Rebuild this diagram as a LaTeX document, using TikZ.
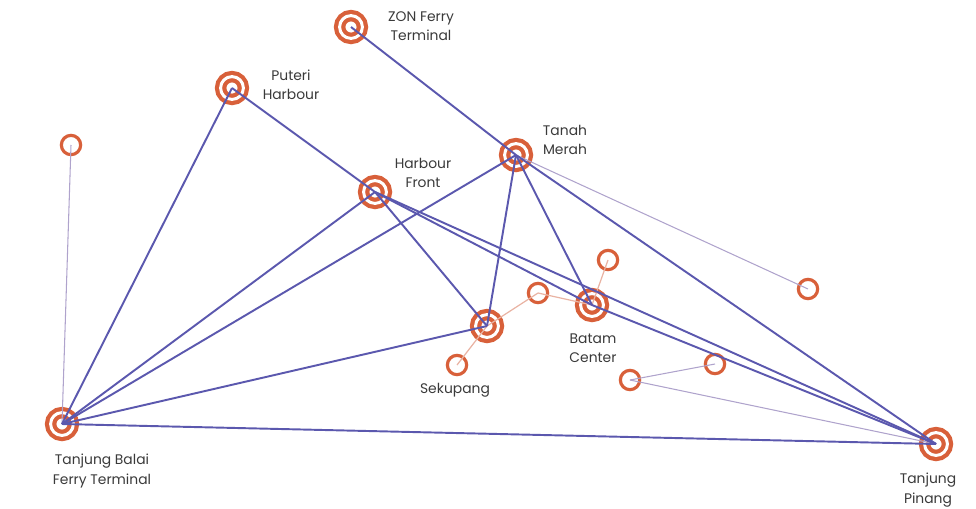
\documentclass[tikz,border=0pt]{standalone}
\usepackage{fontspec}
\setmainfont{Poppins}
\usetikzlibrary{positioning}

\definecolor{stopred}{HTML}{D8603A}
\definecolor{routeblue}{HTML}{5B58AE}
\definecolor{routelight}{HTML}{AFA3CC}
\definecolor{linkpink}{HTML}{E9B3A3}
\definecolor{labelgray}{HTML}{3A3A3A}

\begin{document}
\begin{tikzpicture}[
    x=0.02cm, y=-0.02cm,
    hub/.style={circle, draw=stopred, double=white, line width=2.4pt, double distance=1.7pt, minimum size=13pt, inner sep=0pt},
    stop/.style={circle, draw=stopred, line width=1.8pt, minimum size=11pt, inner sep=0pt},
    place/.style={text=labelgray, align=center, font=\fontsize{7.9}{11}\selectfont},
    route/.style={routeblue, line width=1.1pt},
    minor/.style={routelight, line width=0.6pt},
    link/.style={linkpink, line width=0.7pt}
  ]
    \useasboundingbox (0,0) rectangle (976,508);

    % terminals
    \node[hub] (zon) at (351,27) {};
    \node[hub] (puteri) at (232,88) {};
    \node[hub] (tanah) at (516,155) {};
    \node[hub] (front) at (375,192) {};
    \node[hub] (sekupang) at (487,326) {};
    \node[hub] (batam) at (592,305) {};
    \node[hub] (balai) at (62,424) {};
    \node[hub] (pinang) at (936,444) {};

    % smaller stops
    \node[stop] (s1) at (71,145) {};
    \node[stop] (s2) at (457,365) {};
    \node[stop] (s3) at (538,293) {};
    \node[stop] (s4) at (608,260) {};
    \node[stop] (s5) at (808,289) {};
    \node[stop] (s6) at (715,364) {};
    \node[stop] (s7) at (630,380) {};

    % names
    \node[place] (zonlbl) at (421,26) {ZON Ferry\\Terminal};
    \node[place] (puterilbl) at (291,85) {Puteri\\Harbour};
    \node[place] (tanahlbl) at (565,140) {Tanah\\Merah};
    \node[place] (frontlbl) at (423,173) {Harbour\\Front};
    \node[place] (batamlbl) at (593,348) {Batam\\Center};
    \node[place] (sekupanglbl) at (455,390) {Sekupang};
    \node[place] (balailbl) at (102,471) {Tanjung Balai\\Ferry Terminal};
    \node[place] (pinanglbl) at (928,490) {Tanjung\\Pinang};

    % minor links
    \draw[minor] (s1.center) -- (balai.center);
    \draw[minor] (tanah.center) -- (s5.center);
    \draw[minor] (s7.center) -- (s6.center);
    \draw[minor] (s7.center) -- (pinang.center);
    \draw[link] (sekupang.center) -- (s3.center);
    \draw[link] (s3.center) -- (batam.center);
    \draw[link] (sekupang.center) -- (s2.center);
    \draw[link] (batam.center) -- (s4.center);

    % main routes
    \draw[route] (zon.center) -- (tanah.center);
    \draw[route] (puteri.center) -- (front.center);
    \draw[route] (puteri.center) -- (balai.center);
    \draw[route] (front.center) -- (balai.center);
    \draw[route] (tanah.center) -- (balai.center);
    \draw[route] (sekupang.center) -- (balai.center);
    \draw[route] (balai.center) -- (pinang.center);
    \draw[route] (front.center) -- (sekupang.center);
    \draw[route] (front.center) -- (batam.center);
    \draw[route] (front.center) -- (pinang.center);
    \draw[route] (tanah.center) -- (sekupang.center);
    \draw[route] (tanah.center) -- (batam.center);
    \draw[route] (tanah.center) -- (pinang.center);
    \draw[route] (batam.center) -- (pinang.center);
  \end{tikzpicture}
\end{document}
